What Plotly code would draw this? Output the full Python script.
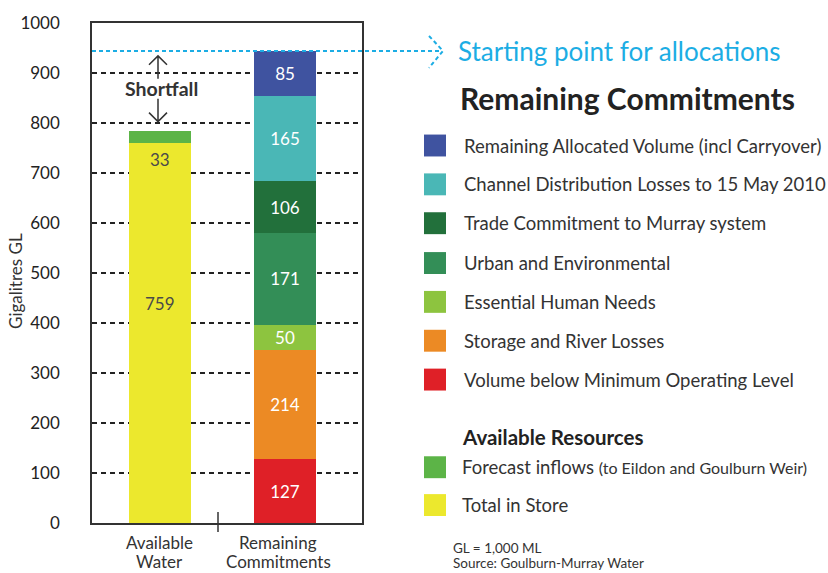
import plotly.graph_objects as go

# ---------------- data ----------------
categories = ["Available Water", "Remaining Commitments"]

available_names = ["Total in Store", "Forecast inflows"]
available_legend = ["Total in Store",
                    "Forecast inflows <span style='font-size:16px'>(to Eildon and Goulburn Weir)</span>"]
available_labels = [759, 33]
available_heights = [761, 24]          # drawn heights
available_colors = ["#ece82d", "#5cb447"]

remaining_names = ["Volume below Minimum Operating Level", "Storage and River Losses",
                   "Essential Human Needs", "Urban and Environmental",
                   "Trade Commitment to Murray system",
                   "Channel Distribution Losses to 15 May 2010",
                   "Remaining Allocated Volume (incl Carryover)"]
remaining_labels = [127, 214, 50, 171, 106, 165, 85]
remaining_heights = [128, 219, 50, 183, 104, 171, 89]   # drawn heights
remaining_colors = ["#df2027", "#ec8a24", "#8dc43f", "#338e57", "#22703b", "#4ab7b6", "#3f53a0"]

y_ticks = list(range(0, 1001, 100))

# ---------------- layout helpers ----------------
W, H = 828, 573
L, R, T, B = 92, 362, 21, 523
FONT = "Lato"
TXT = "#333333"
BLUE = "#1cade4"

def px2x(px):
    return (px - L) / (R - L)

def px2y(py):
    return (B - py) / (B - T)

def note(px, py, text, size, color=TXT, xanchor="left", **kw):
    return dict(x=px2x(px), y=px2y(py), xref="paper", yref="paper", text=text,
                showarrow=False, xanchor=xanchor, yanchor="middle",
                font=dict(family=FONT, size=size, color=color), **kw)

fig = go.Figure()

BAR_W = 0.496
for name, h, c in zip(available_names, available_heights, available_colors):
    fig.add_trace(go.Bar(x=[categories[0]], y=[h], name=name, marker_color=c,
                         marker_line_width=0, width=BAR_W, showlegend=False))

for name, h, lab, c in zip(remaining_names, remaining_heights, remaining_labels, remaining_colors):
    fig.add_trace(go.Bar(x=[categories[1]], y=[h], name=name, marker_color=c,
                         marker_line_width=0, width=BAR_W, showlegend=False,
                         text=[str(lab)], textposition="inside", insidetextanchor="middle",
                         textangle=0,
                         textfont=dict(family=FONT, size=17, color="white")))

shapes = []
annotations = []

# labels on the available-water bar
annotations.append(dict(x=categories[0], y=available_heights[0], xref="x", yref="y",
                        text=str(available_labels[1]), showarrow=False,
                        xanchor="center", yanchor="top", yshift=-4,
                        font=dict(family=FONT, size=17, color="#4a4a4a")))
annotations.append(dict(x=categories[0], y=available_heights[0] / 2, xref="x", yref="y",
                        text=str(available_labels[0]), showarrow=False,
                        xanchor="center", yanchor="middle", yshift=29,
                        font=dict(family=FONT, size=17, color="#4a4a4a")))

# category labels (one annotation per line, tight spacing)
for cat, xs in zip(categories, [-1, -7]):
    words = cat.split(" ")
    for k, (w, ys) in enumerate(zip(words, [-19, -38])):
        annotations.append(dict(x=cat, y=0, xref="x", yref="paper", text=w,
                                showarrow=False, xanchor="center", yanchor="middle",
                                yshift=ys, xshift=xs,
                                font=dict(family=FONT, size=17, color=TXT)))

# small tick between categories
shapes.append(dict(type="line", xref="paper", yref="paper", x0=px2x(218), x1=px2x(218),
                   y0=px2y(532), y1=px2y(512), line=dict(color=TXT, width=1.5)))

# y-axis title
annotations.append(note(16, 280, "Gigalitres GL", 17, xanchor="center", textangle=-90))

# starting point line
start_val = sum(remaining_heights)
sy = start_val / 1000.0
shapes.append(dict(type="line", xref="paper", yref="paper", x0=0, x1=px2x(440), y0=sy, y1=sy,
                   line=dict(color=BLUE, width=2, dash="4px,3px")))
shapes.append(dict(type="path", xref="paper", yref="paper",
                   path=f"M {px2x(429)} {px2y(34)} L {px2x(443)} {px2y(49)} L {px2x(429)} {px2y(66)}",
                   line=dict(color=BLUE, width=2, dash="4px,3px")))
annotations.append(note(456, 49, "Starting point for allocations", 26, color=BLUE))

# shortfall arrows
ax = 158
shapes.append(dict(type="path", xref="paper", yref="paper",
                   path=(f"M {px2x(ax)} {px2y(77)} L {px2x(ax)} {px2y(54)} "
                         f"M {px2x(ax-9)} {px2y(63)} L {px2x(ax)} {px2y(54)} L {px2x(ax+9)} {px2y(63)}"),
                   line=dict(color=TXT, width=1.5)))
shapes.append(dict(type="path", xref="paper", yref="paper",
                   path=(f"M {px2x(ax)} {px2y(97)} L {px2x(ax)} {px2y(120)} "
                         f"M {px2x(ax-9)} {px2y(111)} L {px2x(ax)} {px2y(120)} L {px2x(ax+9)} {px2y(111)}"),
                   line=dict(color=TXT, width=1.5)))
annotations.append(note(161, 87, "<b>Shortfall</b>", 19.5, xanchor="center"))

# legend
annotations.append(note(458, 96, "<b>Remaining Commitments</b>", 30, color="#222222"))
row_y = [144, 183, 222, 262, 301, 340, 379]
for yy, name, c in zip(row_y, remaining_names[::-1], remaining_colors[::-1]):
    shapes.append(dict(type="rect", xref="paper", yref="paper", x0=px2x(424), x1=px2x(446),
                       y0=px2y(yy - 11), y1=px2y(yy + 11), fillcolor=c, line_width=0))
    annotations.append(note(462, yy, name, 18.5))

annotations.append(note(460, 437, "<b>Available Resources</b>", 20.5, color="#222222"))
row_y2 = [467, 505]
for yy, name, c in zip(row_y2, available_legend[::-1], available_colors[::-1]):
    shapes.append(dict(type="rect", xref="paper", yref="paper", x0=px2x(424), x1=px2x(446),
                       y0=px2y(yy - 11), y1=px2y(yy + 11), fillcolor=c, line_width=0))
    annotations.append(note(460, yy, name, 18.5))

annotations.append(note(451, 548, "GL = 1,000 ML", 13.5))
annotations.append(note(451, 563, "Source: Goulburn-Murray Water", 13.5))

fig.update_layout(
    width=W, height=H,
    margin=dict(l=L, r=W - R, t=T, b=H - B, pad=0),
    barmode="stack",
    plot_bgcolor="white", paper_bgcolor="white",
    showlegend=False,
    uniformtext=dict(minsize=17, mode="show"),
    shapes=shapes, annotations=annotations,
    font=dict(family=FONT, color=TXT),
    xaxis=dict(type="category", range=[-0.544, 1.616], showticklabels=False, ticks="",
               showline=True, mirror=True, linecolor="#333333", linewidth=1.5,
               showgrid=False, zeroline=False, fixedrange=True),
    yaxis=dict(range=[0, 1000], tickvals=y_ticks, ticks="", ticklabelstandoff=27,
               tickfont=dict(family=FONT, size=17, color="#222222"),
               showline=True, mirror=True, linecolor="#333333", linewidth=1.5,
               showgrid=True, gridcolor="#222222", gridwidth=1.6, griddash="5px,4px",
               zeroline=False),
)

fig.write_html("out.html", config={"displayModeBar": False},
               post_script="document.body.style.margin='0';")
